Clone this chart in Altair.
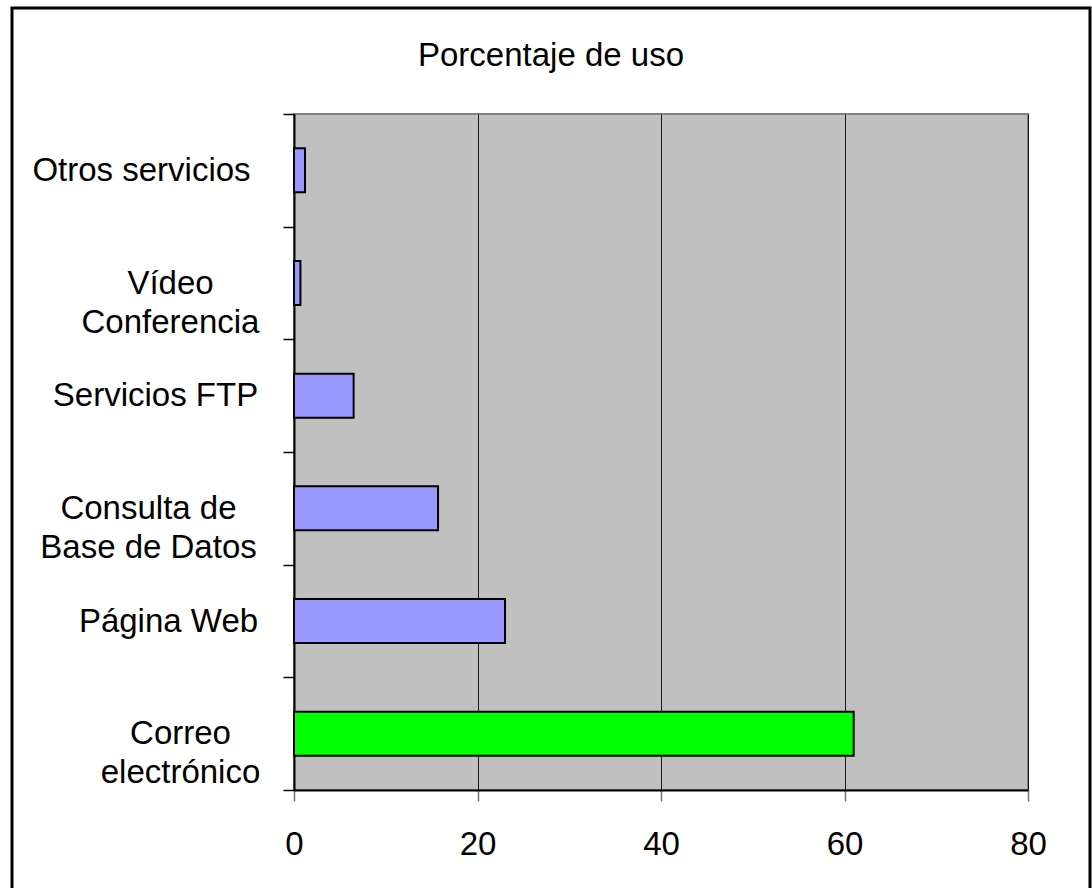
import altair as alt
import pandas as pd

# Services (top to bottom) and their share of use, in percent
servicios = [
    "Otros servicios",
    "Vídeo\nConferencia",
    "Servicios FTP",
    "Consulta de\nBase de Datos",
    "Página Web",
    "Correo\nelectrónico",
]
porcentaje = [1.2, 0.7, 6.5, 15.7, 23.0, 61.0]
colores = ["#9999FF", "#9999FF", "#9999FF", "#9999FF", "#9999FF", "#00FF00"]
ticks_x = [0, 20, 40, 60, 80]

# distance (px) from the tick end to the centre of each category label
centro_etiqueta = {
    "Otros": 142,
    "Vídeo": 113,
    "FTP": 128,
    "Consulta": 135,
    "Página": 115,
    "Correo": 103,
}

df = pd.DataFrame({"servicio": servicios, "porcentaje": porcentaje})

FONT = "Liberation Sans"

label_padding = {
    "condition": [
        {"test": f"isString(datum.value) && indexof(datum.value, '{k}') >= 0", "value": v}
        for k, v in centro_etiqueta.items()
    ],
    "value": 120,
}

bars = alt.Chart(df).mark_bar(
    height=alt.RelativeBandSize(0.39), stroke="black", strokeWidth=2
).encode(
    x=alt.X(
        "porcentaje:Q",
        scale=alt.Scale(domain=[0, 80], nice=False, zero=True),
        axis=alt.Axis(
            values=ticks_x,
            title=None,
            grid=True,
            gridColor="#1a1a1a",
            gridWidth=1,
            tickSize=11,
            tickColor="#707070",
            tickWidth=1.5,
            domainColor="black",
            domainWidth=2,
            labelFont=FONT,
            labelFontSize=33,
            labelColor="black",
            labelPadding=53,
            labelBaseline="alphabetic",
            labelFlush=False,
            labelOverlap=False,
        ),
    ),
    y=alt.Y(
        "servicio:N",
        sort=servicios,
        scale=alt.Scale(paddingInner=0, paddingOuter=0),
        axis=alt.Axis(
            title=None,
            grid=False,
            labelExpr="isString(datum.value) ? split(datum.value, '\\n') : ''",
            labelAlign="center",
            labelBaseline="middle",
            labelPadding=label_padding,
            labelFont=FONT,
            labelFontSize=33,
            labelColor="black",
            labelLineHeight=39,
            labelLimit=500,
            labelOverlap=False,
            tickBand="extent",
            tickSize=11,
            tickColor="black",
            tickWidth=1.5,
            domainColor="black",
            domainWidth=2,
        ),
    ),
    color=alt.Color(
        "servicio:N",
        scale=alt.Scale(domain=servicios, range=colores),
        legend=None,
    ),
)

# outer border around the whole chart
frame = alt.Chart(pd.DataFrame({"k": [0]})).mark_rect(
    fill="transparent", stroke="black", strokeWidth=3
).encode(
    x=alt.value(-282),
    x2=alt.value(796),
    y=alt.value(-106),
    y2=alt.value(800),
)

chart = (
    alt.layer(bars, frame)
    .properties(
        width=734,
        height=676,
        autosize=alt.AutoSizeParams(type="none"),
        padding={"left": 294, "top": 114, "right": 64, "bottom": 98},
        background="white",
        title=alt.TitleParams(
            "Porcentaje de uso",
            font=FONT,
            fontSize=33,
            fontWeight="normal",
            color="black",
            anchor="middle",
            dx=-110,
            offset=-92,
            baseline="alphabetic",
        ),
    )
    .configure_view(fill="#C0C0C0", stroke="#808080", strokeWidth=2)
)

chart.save("out.html", embed_options={"renderer": "svg", "actions": False})
